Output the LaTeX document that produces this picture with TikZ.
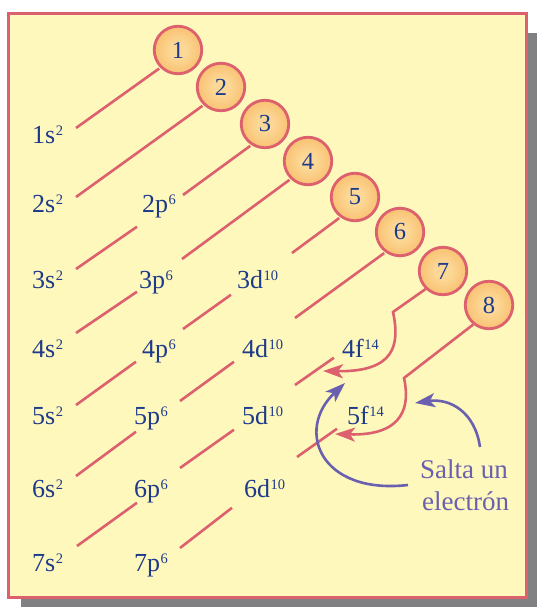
\documentclass[tikz,border=0pt]{standalone}
\usepackage{fontspec}
\setmainfont{Liberation Serif}
\usetikzlibrary{arrows.meta}
\definecolor{bgyellow}{RGB}{254,248,188}
\definecolor{rosa}{RGB}{220,96,110}
\definecolor{azul}{RGB}{30,58,138}
\definecolor{morado}{RGB}{106,96,176}
\definecolor{sombra}{RGB}{128,128,131}
\definecolor{bolain}{RGB}{252,216,150}
\definecolor{bolaout}{RGB}{244,160,62}
\pgfdeclareradialshading{bolasombra}{\pgfpoint{0bp}{0bp}}{color(0bp)=(bolain); color(8bp)=(bolain); color(50bp)=(bolaout)}
\newcommand\supr[1]{\kern0.5pt\raisebox{7.8pt}{\fontsize{14.5}{14.5}\selectfont #1}}
\tikzset{
  bola/.style={circle, draw=rosa, line width=2.8pt, shading=bolasombra, minimum size=47.5pt, inner sep=0pt, text=azul, font=\fontsize{24.5}{24.5}\selectfont},
  lab/.style={anchor=base west, inner sep=0pt, text=azul, font=\fontsize{26}{26}\selectfont},
  nota/.style={anchor=base west, inner sep=0pt, text=morado, font=\fontsize{27}{27}\selectfont},
  linea/.style={draw=rosa, line width=2.6pt, shorten >=1.3pt},
  flecha/.style={draw=rosa, line width=2.6pt, -{Stealth[length=20pt,width=14pt,inset=5pt]}},
  flechaazul/.style={draw=morado, line width=2.6pt, -{Stealth[length=20pt,width=14pt,inset=5pt]}}
}
\begin{document}
\begin{tikzpicture}[x=1pt,y=-1pt]
\useasboundingbox (0,0) rectangle (537,607);
% frame
\fill[sombra] (21,33) rectangle (537,607);
\draw[rosa, line width=3.3pt, fill=bgyellow] (8.65,13.65) rectangle (526.35,597.35);

% circles
\node[bola] (c1) at (178,50) {1};
\node[bola] (c2) at (221,87) {2};
\node[bola] (c3) at (265,124) {3};
\node[bola] (c4) at (308,161) {4};
\node[bola] (c5) at (355,197) {5};
\node[bola] (c6) at (400,232) {6};
\node[bola] (c7) at (443,271) {7};
\node[bola] (c8) at (489,305) {8};

% labels
\node[lab] (s1) at (32,143) {1s\supr{2}};
\node[lab] (s2) at (32,212) {2s\supr{2}};
\node[lab] (s3) at (32,288) {3s\supr{2}};
\node[lab] (s4) at (32,357) {4s\supr{2}};
\node[lab] (s5) at (32,424) {5s\supr{2}};
\node[lab] (s6) at (32,497) {6s\supr{2}};
\node[lab] (s7) at (32,571) {7s\supr{2}};
\node[lab] (p2) at (142,212) {2p\supr{6}};
\node[lab] (p3) at (139,288) {3p\supr{6}};
\node[lab] (p4) at (142,357) {4p\supr{6}};
\node[lab] (p5) at (134,424) {5p\supr{6}};
\node[lab] (p6) at (134,497) {6p\supr{6}};
\node[lab] (p7) at (134,571) {7p\supr{6}};
\node[lab] (d3) at (237,288) {3d\supr{10}};
\node[lab] (d4) at (242,357) {4d\supr{10}};
\node[lab] (d5) at (242,424) {5d\supr{10}};
\node[lab] (d6) at (244,497) {6d\supr{10}};
\node[lab] (f4) at (342,357) {4f\supr{14}};
\node[lab] (f5) at (347,424) {5f\supr{14}};

\node[nota] (t1) at (420,478) {Salta un};
\node[nota] (t2) at (422,510) {electrón};

% coordinates of segment ends
\coordinate (a1) at (76,128);
\coordinate (a2) at (76,197);
\coordinate (a3) at (76,269);   \coordinate (b3) at (138,226);
\coordinate (e3) at (183,195);
\coordinate (a4) at (76,333);   \coordinate (b4) at (138,291);
\coordinate (e4) at (182,259);
\coordinate (a5) at (76,405);   \coordinate (b5) at (137,361);
\coordinate (g5) at (183,329);  \coordinate (h5) at (232,294);
\coordinate (e5) at (292,253);
\coordinate (a6) at (76,476);   \coordinate (b6) at (137,431);
\coordinate (g6) at (180,401);  \coordinate (h6) at (235,361);
\coordinate (e6) at (295,318);
\coordinate (a7) at (77,546);   \coordinate (b7) at (138,502);
\coordinate (g7) at (180,468);  \coordinate (h7) at (235,429);
\coordinate (i7) at (295,385);  \coordinate (j7) at (335,357);
\coordinate (k7) at (393,312);  \coordinate (tip7) at (323,371);
\coordinate (g8) at (180,548);  \coordinate (h8) at (233,507);
\coordinate (i8) at (297,457);  \coordinate (j8) at (338,428);
\coordinate (k8) at (404,378);  \coordinate (tip8) at (335,434);
\coordinate (u1) at (408,485);  \coordinate (v1) at (345,383);
\coordinate (u2) at (480,447);  \coordinate (v2) at (415,403);

% diagonals
\draw[linea] (a1) -- (c1.225);
\draw[linea] (a2) -- (c2.226);
\draw[linea] (a3) -- (b3);  \draw[linea] (e3) -- (c3.237);
\draw[linea] (a4) -- (b4);  \draw[linea] (e4) -- (c4.226);
\draw[linea] (a5) -- (b5);  \draw[linea] (g5) -- (h5);  \draw[linea] (e5) -- (c5.234);
\draw[linea] (a6) -- (b6);  \draw[linea] (g6) -- (h6);  \draw[linea] (e6) -- (c6.234);
\draw[linea] (a7) -- (b7);  \draw[linea] (g7) -- (h7);  \draw[linea] (i7) -- (j7);
\draw[linea] (g8) -- (h8);  \draw[linea] (i8) -- (j8);
\draw[flecha] (c7.226) -- (k7) .. controls (400,345) and (395,372) .. (tip7);
\draw[flecha] (c8.231) -- (k8) .. controls (410,405) and (405,436) .. (tip8);

% blue arrows
\draw[flechaazul] (u1) .. controls (320,495) and (295,430) .. (v1);
\draw[flechaazul] (u2) .. controls (475,412) and (450,398) .. (v2);
\end{tikzpicture}
\end{document}
